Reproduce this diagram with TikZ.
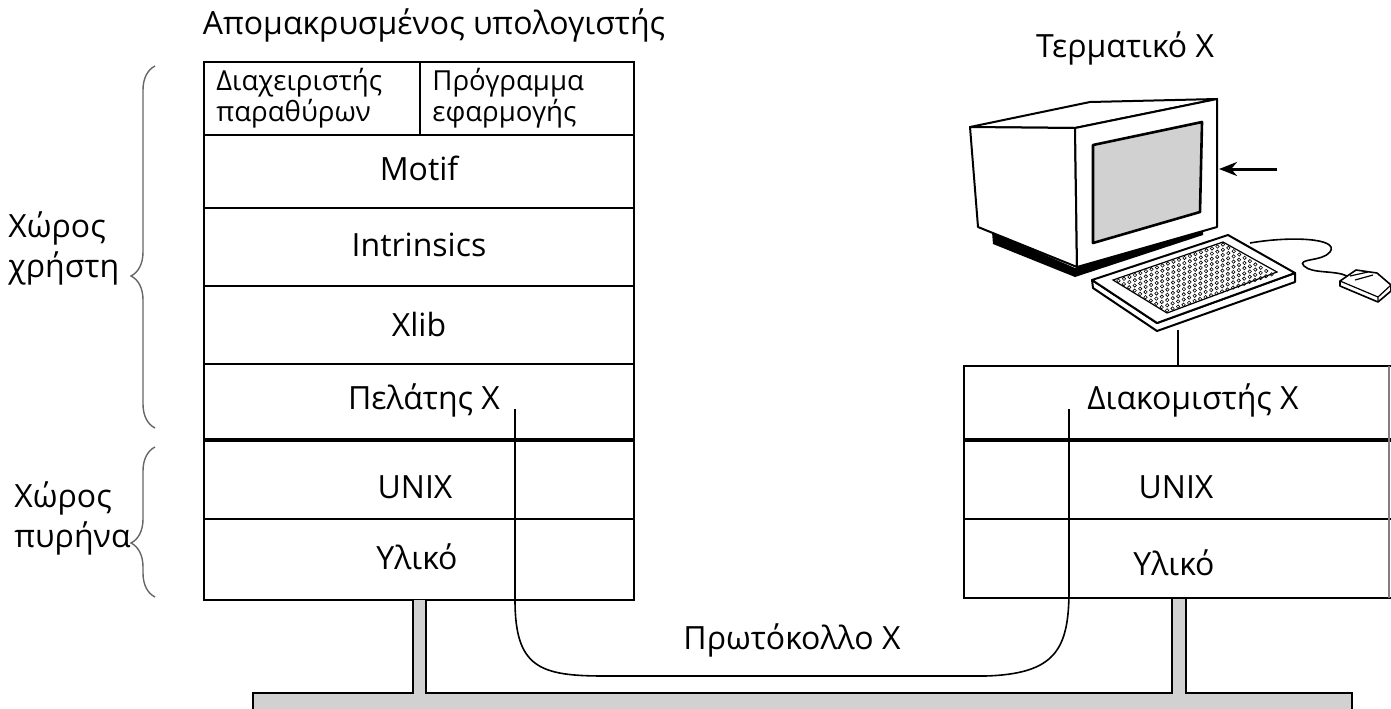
\documentclass[tikz,border=0pt]{standalone}
\usepackage{fontspec}
\setmainfont{Open Sans}
\usetikzlibrary{arrows.meta}
\usetikzlibrary{decorations.pathreplacing}
\usetikzlibrary{positioning}

\tikzset{
  label/.style={font=\fontsize{16}{20}\selectfont, inner sep=0pt},
  side/.style={font=\fontsize{16}{20}\selectfont, align=left, anchor=west, inner sep=0pt},
  small/.style={font=\fontsize{13.8}{14}\selectfont, align=left, anchor=west, inner sep=0pt},
  frame/.style={line width=1.2pt},
  row/.style={line width=0.9pt},
  kernel/.style={line width=2.4pt},
  wire/.style={line width=0.8pt},
  bus/.style={line width=0.9pt, fill=black!18},
  curly/.style={draw=black!60, line width=0.7pt, decorate,
    decoration={brace, amplitude=12pt, aspect=#1}},
  curly/.default=0.5,
  tube/.style={line width=1pt, fill=white, line join=round},
}

\begin{document}
\begin{tikzpicture}[x=0.5pt, y=-0.5pt]
  \useasboundingbox (0,0) rectangle (1391,708);

  % remote machine
  \draw[row] (204,135) -- (634,135) (204,208) -- (634,208)
    (204,286) -- (634,286) (204,364) -- (634,364) (204,519) -- (634,519)
    (420,62) -- (420,135);
  \draw[kernel] (204,440) -- (634,440);
  \draw[frame] (204,62) rectangle (634,600);

  \node[label] (remote) at (434,25) {Απομακρυσμένος υπολογιστής};
  \node[small] (wm) at (216,98) {Διαχειριστής\\παραθύρων};
  \node[small] (app) at (432,98) {Πρόγραμμα\\εφαρμογής};
  \node[label] (motif) at (419,168) {Motif};
  \node[label] (xt) at (419,245) {Intrinsics};
  \node[label] (xlib) at (419,324) {Xlib};
  \node[label] (client) at (424,400) {Πελάτης X};
  \node[label] (unixl) at (415,487) {UNIX};
  \node[label] (hwl) at (417,557) {Υλικό};

  % user and kernel space
  \draw[curly=0.42] (155,428) -- (155,66);
  \draw[curly=0.36] (155,597) -- (155,447);
  \node[side] (user) at (8,248) {Χώρος\\χρήστη};
  \node[side] (kern) at (14,518) {Χώρος\\πυρήνα};

  % terminal
  \draw[row] (964,519) -- (1391,519);
  \draw[kernel] (964,440) -- (1391,440);
  \draw[frame] (1391,366) -- (964,366) -- (964,598) -- (1391,598);
  \draw[line width=0.6pt, black!50] (1389,366) -- (1389,598);

  \node[label] (term) at (1125,48) {Τερματικό X};
  \node[label] (server) at (1193,400) {Διακομιστής X};
  \node[label] (unixr) at (1176,487) {UNIX};
  \node[label] (hwr) at (1174,563) {Υλικό};

  % monitor
  \fill (992,232) -- (1075,268) -- (1203,228) -- (1203,235)
    -- (1075,277) -- (993,244) -- cycle;
  \draw[tube] (970,127) -- (1090,102) -- (1217,99) -- (1075,128) -- cycle;
  \draw[tube] (970,127) -- (1075,128) -- (1077,267) -- (978,227) -- cycle;
  \draw[tube] (1075,128) -- (1217,99) -- (1217,227) -- (1077,267) -- cycle;
  \draw[tube, fill=black!18, line width=1.3pt]
    (1093,145) -- (1202,122) -- (1200,212) -- (1093,243) -- cycle;
  \coordinate (tip) at (1219,169);
  \coordinate (tail) at (1277,169);
  \draw[line width=1.5pt, -{Stealth[length=9pt, width=7pt]}] (tail) -- (tip);

  % keyboard
  \draw[tube] (1092,280) -- (1093,288) -- (1157,331) -- (1295,282)
    -- (1295,273) -- (1157,323) -- cycle;
  \draw[tube] (1092,280) -- (1228,235) -- (1295,273) -- (1157,323) -- cycle;
  \draw[line width=0.6pt] (1113,280) -- (1223,242) -- (1277,272) -- (1167,313) -- cycle;
  \foreach \i in {0,...,19}
    \foreach \j in {0,...,9}
      \draw[line width=0.3pt]
        ({1113+(\i+0.5)*5.5+(\j+0.5)*5.4},{280-(\i+0.5)*1.9+(\j+0.5)*3.3})
        circle [radius=0.85pt];

  % mouse
  \coordinate (kb) at (1250,243);
  \coordinate (ms) at (1347,276);
  \draw[wire] (kb) .. controls (1290,236) and (1340,238) .. (1330,252)
    .. controls (1322,262) and (1296,258) .. (1304,266)
    .. controls (1312,274) and (1335,270) .. (ms);
  \draw[tube, line width=0.8pt] (1340,281) -- (1356,270) -- (1377,273) -- (1391,285)
    -- (1391,291) -- (1378,302) -- (1340,286) -- cycle;
  \draw[line width=0.6pt] (1340,281) -- (1378,297) -- (1391,285)
    (1378,297) -- (1378,302) (1350,276) -- (1368,272) (1355,280) -- (1373,275);

  % terminal to server
  \coordinate (kbfoot) at (1178,330);
  \coordinate (srvtop) at (1178,366);
  \draw[wire] (kbfoot) -- (srvtop);

  % network
  \draw[bus] (413,600) -- (413,693) -- (253,693) -- (253,716) -- (1352,716)
    -- (1352,693) -- (1186,693) -- (1186,598) -- (1172,598) -- (1172,693)
    -- (426,693) -- (426,600);

  % X protocol
  \coordinate (xc) at (515,409);
  \coordinate (xs) at (1069,409);
  \draw[wire] (xc) -- (515,600) .. controls (515,668) and (540,676) .. (605,676)
    -- (985,676) .. controls (1055,674) and (1069,650) .. (1069,590) -- (xs);
  \node[label] (proto) at (792,640) {Πρωτόκολλο X};
\end{tikzpicture}
\end{document}
